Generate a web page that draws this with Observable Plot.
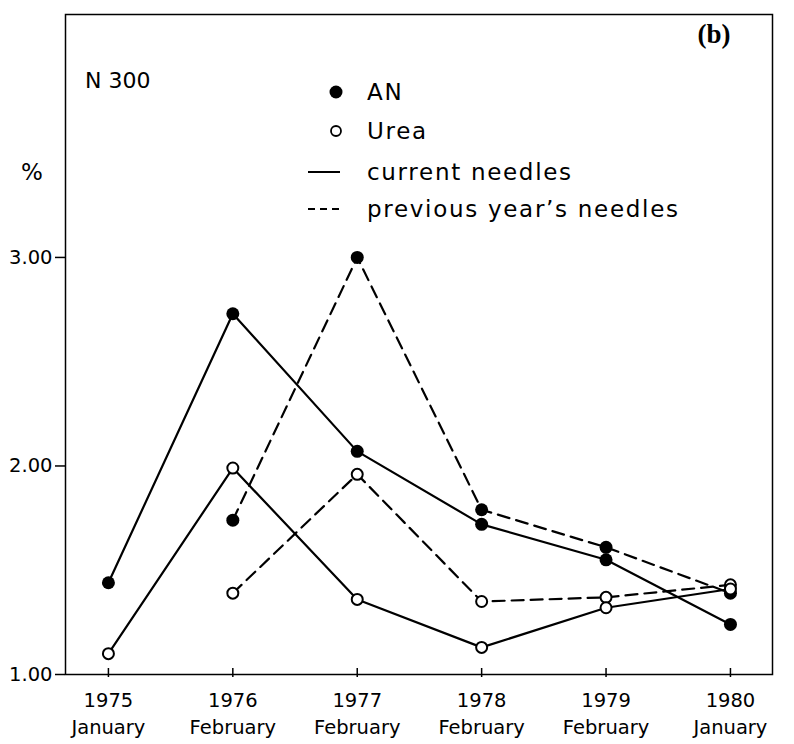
<!DOCTYPE html>
<html><head><meta charset="utf-8">
<script src="https://cdn.jsdelivr.net/npm/d3@7"></script>
<script src="https://cdn.jsdelivr.net/npm/@observablehq/plot@0.6"></script>
<style>body{margin:0;background:#fff} svg{display:block}</style>
</head><body><div id="chart"></div>
<script>
const years = [1975, 1976, 1977, 1978, 1979, 1980];
const months = ["January", "February", "February", "February", "February", "January"];
const anCurrent = [1.44, 2.73, 2.07, 1.72, 1.55, 1.24];
const ureaCurrent = [1.10, 1.99, 1.36, 1.13, 1.32, 1.41];
const anPrevious = [null, 1.74, 3.00, 1.79, 1.61, 1.39];
const ureaPrevious = [null, 1.39, 1.96, 1.35, 1.37, 1.43];
const yTicks = [1, 2, 3];

function series(vals) {
  return years.map((y, i) => ({year: y, value: vals[i]})).filter(d => d.value != null);
}
const anCur = series(anCurrent), ureaCur = series(ureaCurrent);
const anPrev = series(anPrevious), ureaPrev = series(ureaPrevious);

const LW = 2.2, DASH = "12,7";
const plot = Plot.plot({
  width: 794, height: 744,
  marginLeft: 65, marginRight: 22, marginTop: 14, marginBottom: 70,
  x: {type: "linear", domain: [1974.655, 1980.338]},
  y: {domain: [1, 4.165]},
  style: {fontFamily: "DejaVu Sans", fontSize: "19.5px", color: "#000", background: "#fff"},
  marks: [
    Plot.frame({strokeWidth: 1.5}),
    Plot.axisY({ticks: yTicks, tickFormat: d => d.toFixed(2), tickSize: 10, tickPadding: 3, label: null, strokeWidth: 1.5}),
    Plot.axisX({ticks: years, tickFormat: () => "", tickSize: 9, dy: -6, label: null, strokeWidth: 1.5}),
    Plot.axisX({ticks: years, tickFormat: d => `${d}\n${months[years.indexOf(d)]}`, tickSize: 0, tickPadding: 14, lineHeight: 1.35, label: null}),
    Plot.line(anCur, {x: "year", y: "value", strokeWidth: LW}),
    Plot.line(ureaCur, {x: "year", y: "value", strokeWidth: LW}),
    Plot.line(anPrev, {x: "year", y: "value", strokeWidth: LW, strokeDasharray: DASH}),
    Plot.line(ureaPrev, {x: "year", y: "value", strokeWidth: LW, strokeDasharray: DASH}),
    Plot.dot(anPrev, {x: "year", y: "value", r: 6.5, fill: "#000", stroke: "none"}),
    Plot.dot(anCur, {x: "year", y: "value", r: 6.5, fill: "#000", stroke: "none"}),
    Plot.dot(ureaPrev, {x: "year", y: "value", r: 5.5, fill: "#fff", stroke: "#000", strokeWidth: 2}),
    Plot.dot(ureaCur, {x: "year", y: "value", r: 5.5, fill: "#fff", stroke: "#000", strokeWidth: 2})
  ]
});

// annotations and legend
const svg = d3.select(plot);
const g = svg.append("g").attr("font-family", "DejaVu Sans").attr("font-size", 23)
  .attr("fill", "#000").attr("text-anchor", "start");
g.append("text").attr("x", 85).attr("y", 80).attr("dy", "0.35em").attr("font-size", 22).text("N 300");
g.append("text").attr("x", 32).attr("y", 172).attr("dy", "0.35em").attr("text-anchor", "middle").text("%");
g.append("text").attr("x", 714).attr("y", 43).attr("text-anchor", "middle")
  .attr("font-family", "Liberation Serif").attr("font-size", 27).attr("font-weight", "bold").text("(b)");
const lg = g.append("g").attr("letter-spacing", 1.7);
lg.append("circle").attr("cx", 336).attr("cy", 92).attr("r", 6.5).attr("fill", "#000");
lg.append("text").attr("x", 367).attr("y", 92).attr("dy", "0.35em").text("AN");
lg.append("circle").attr("cx", 336).attr("cy", 131).attr("r", 5).attr("fill", "#fff").attr("stroke", "#000").attr("stroke-width", 1.8);
lg.append("text").attr("x", 367).attr("y", 131).attr("dy", "0.35em").text("Urea");
lg.append("line").attr("x1", 308).attr("x2", 340).attr("y1", 172).attr("y2", 172).attr("stroke", "#000").attr("stroke-width", 2);
lg.append("text").attr("x", 367).attr("y", 172).attr("dy", "0.35em").text("current needles");
lg.append("line").attr("x1", 308).attr("x2", 340).attr("y1", 209).attr("y2", 209).attr("stroke", "#000").attr("stroke-width", 2).attr("stroke-dasharray", "7,5");
lg.append("text").attr("x", 367).attr("y", 209).attr("dy", "0.35em").text("previous year\u2019s needles");

document.getElementById("chart").appendChild(plot);
</script>
</body></html>
